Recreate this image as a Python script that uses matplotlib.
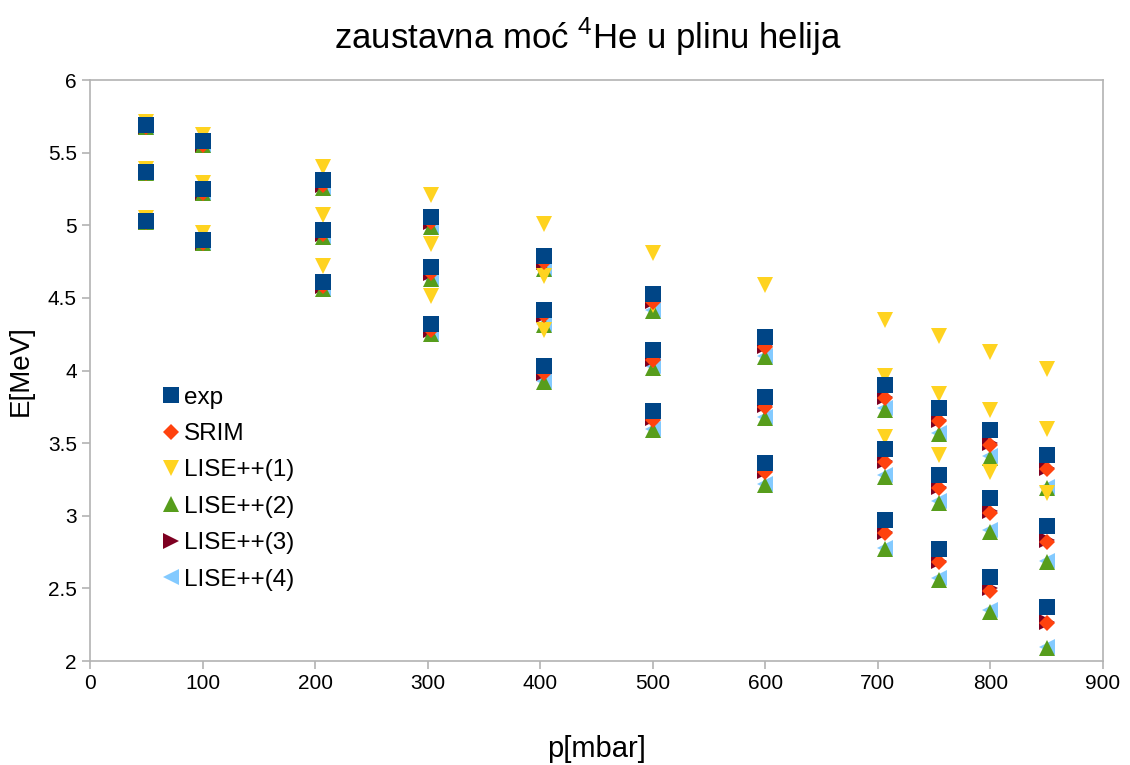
import matplotlib
matplotlib.use("Agg")
from matplotlib import pyplot as plt

plt.rcParams['font.family'] = ['Liberation Sans', 'DejaVu Sans']

# three measured energies at each pressure
p = [50, 50, 50, 100, 100, 100, 207, 207, 207, 303, 303, 303,
     403, 403, 403, 500, 500, 500, 600, 600, 600, 706, 706, 706,
     754, 754, 754, 800, 800, 800, 850, 850, 850]

exp = [5.69, 5.37, 5.03, 5.58, 5.25, 4.90, 5.31, 4.97, 4.61, 5.06, 4.71, 4.32,
       4.79, 4.42, 4.03, 4.53, 4.14, 3.72, 4.23, 3.82, 3.36, 3.90, 3.46, 2.97,
       3.74, 3.28, 2.77, 3.59, 3.12, 2.58, 3.42, 2.93, 2.37]

srim = [5.68, 5.36, 5.02, 5.55, 5.22, 4.88, 5.28, 4.94, 4.58, 5.02, 4.67, 4.28,
        4.75, 4.38, 3.98, 4.47, 4.07, 3.66, 4.16, 3.75, 3.30, 3.81, 3.37, 2.88,
        3.65, 3.19, 2.68, 3.49, 3.02, 2.48, 3.32, 2.82, 2.26]

lise1 = [5.71, 5.39, 5.05, 5.62, 5.29, 4.95, 5.40, 5.07, 4.72, 5.21, 4.87, 4.51,
         5.01, 4.65, 4.28, 4.81, 4.45, 4.07, 4.59, 4.22, 3.81, 4.35, 3.96, 3.54,
         4.24, 3.84, 3.42, 4.13, 3.73, 3.30, 4.01, 3.60, 3.16]

lise2 = [5.68, 5.36, 5.02, 5.55, 5.22, 4.88, 5.26, 4.92, 4.56, 4.99, 4.63, 4.25,
         4.70, 4.31, 3.92, 4.41, 4.02, 3.59, 4.09, 3.67, 3.21, 3.73, 3.27, 2.77,
         3.56, 3.09, 2.56, 3.40, 2.89, 2.34, 3.19, 2.68, 2.09]

lise3 = [5.68, 5.36, 5.02, 5.55, 5.22, 4.88, 5.28, 4.94, 4.58, 5.02, 4.67, 4.28,
         4.75, 4.38, 3.98, 4.48, 4.08, 3.67, 4.17, 3.76, 3.31, 3.82, 3.38, 2.89,
         3.66, 3.20, 2.69, 3.50, 3.03, 2.50, 3.33, 2.83, 2.27]

lise4 = [5.68, 5.36, 5.02, 5.55, 5.22, 4.88, 5.26, 4.92, 4.56, 4.99, 4.63, 4.25,
         4.70, 4.32, 3.93, 4.42, 4.03, 3.60, 4.10, 3.68, 3.22, 3.74, 3.28, 2.78,
         3.57, 3.10, 2.57, 3.41, 2.90, 2.35, 3.20, 2.69, 2.10]

fig = plt.figure(figsize=(11.3, 7.65), dpi=100)
ax = fig.add_axes([0.0796, 0.1359, 0.8965, 0.7595])

# later series sit underneath, exp on top
series = [
    (exp, "exp", "s", 12, "#004586"),
    (srim, "SRIM", "D", 8.5, "#ff420e"),
    (lise1, "LISE++(1)", "v", 12, "#ffd320"),
    (lise2, "LISE++(2)", "^", 12, "#579d1c"),
    (lise3, "LISE++(3)", ">", 12, "#7e0021"),
    (lise4, "LISE++(4)", "<", 12, "#83caff"),
]
for i, (vals, name, mk, ms, col) in enumerate(series):
    ax.plot(p, vals, linestyle="none", marker=mk, markersize=ms, color=col,
            markeredgewidth=0, label=name, zorder=10 - i)

ax.set_xlim(0, 900)
ax.set_ylim(2, 6)
ax.set_xticks(range(0, 1000, 100))
ax.set_yticks([2, 2.5, 3, 3.5, 4, 4.5, 5, 5.5, 6])
ax.set_yticklabels(["2", "2.5", "3", "3.5", "4", "4.5", "5", "5.5", "6"])
for s in ax.spines.values():
    s.set_color("#b3b3b3")
    s.set_linewidth(1.2)
ax.tick_params(colors="#b3b3b3", labelcolor="black", labelsize=15, length=6, width=1.2)

ax.set_xlabel("p[mbar]", fontsize=21, labelpad=30)
ax.set_ylabel("E[MeV]", fontsize=20, labelpad=10)
fig.suptitle(r"zaustavna moć $^{\mathregular{4}}$He u plinu helija", fontsize=25, x=0.52, y=0.98)

ax.legend(loc="upper left", bbox_to_anchor=(0.058, 0.493), frameon=False, fontsize=17.5,
          handlelength=0.8, handletextpad=0.15, labelspacing=0.59, borderpad=0)

fig.savefig("out.png", dpi=100)
